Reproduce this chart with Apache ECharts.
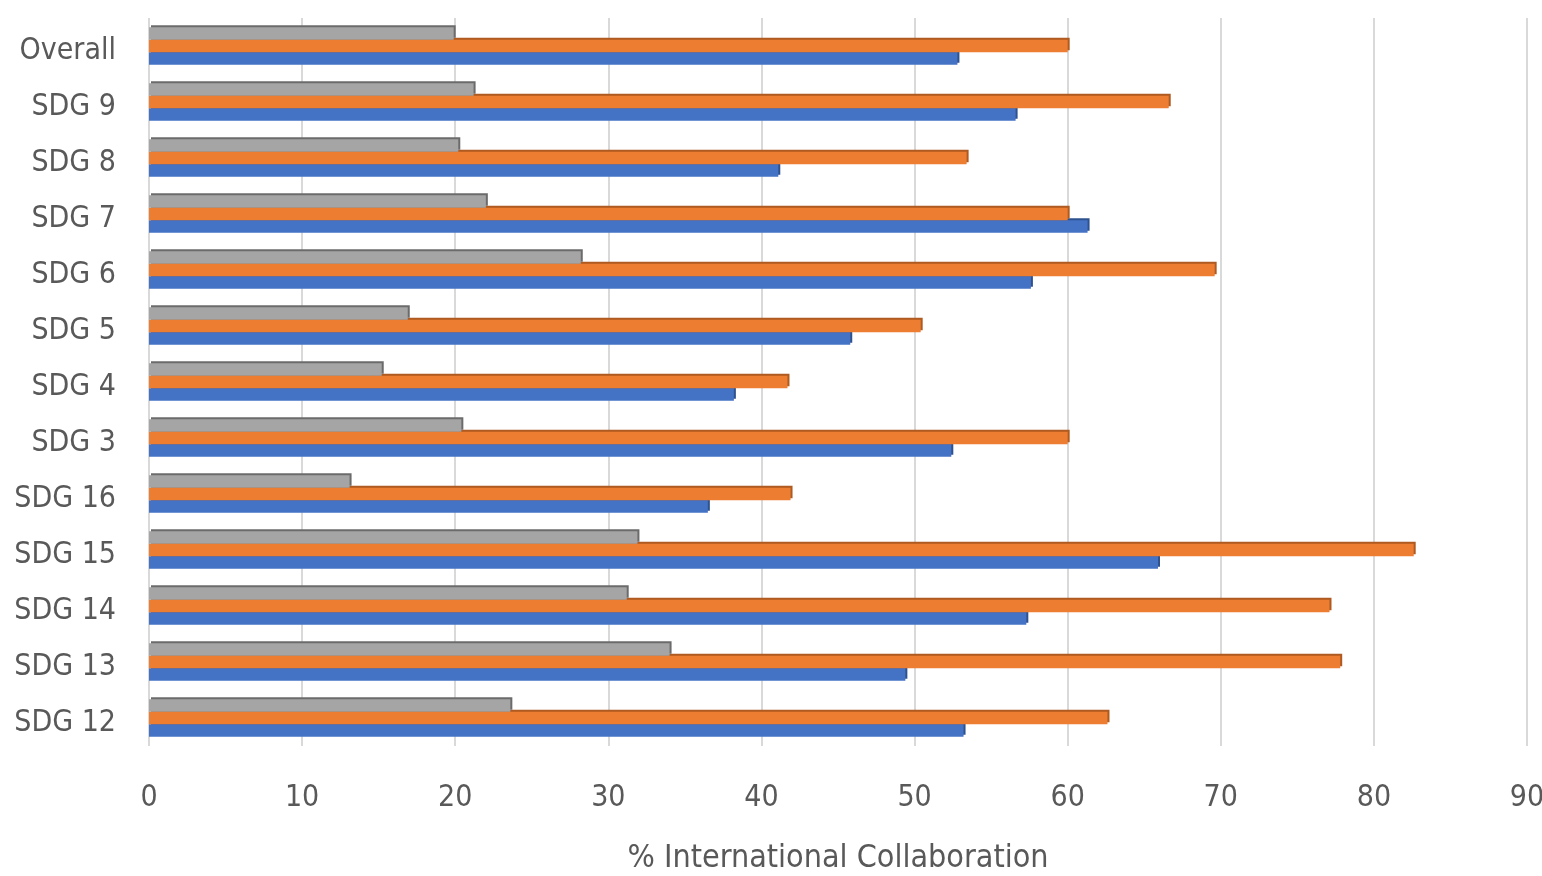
<!DOCTYPE html>
<html>
<head>
<meta charset="utf-8">
<script src="https://cdn.jsdelivr.net/npm/echarts@6/dist/echarts.min.js"></script>
<style>html,body{margin:0;padding:0;background:#fff;overflow:hidden}#c{width:1542px;height:876px}</style>
</head>
<body>
<div id="c"></div>
<script>
// categories listed bottom-to-top
const categories = ['SDG 12','SDG 13','SDG 14','SDG 15','SDG 16','SDG 3','SDG 4','SDG 5','SDG 6','SDG 7','SDG 8','SDG 9','Overall'];
const blueValues   = [53.2, 49.4, 57.3, 65.9, 36.5, 52.4, 38.2, 45.8, 57.6, 61.3, 41.1, 56.6, 52.8];
const orangeValues = [62.6, 77.8, 77.1, 82.6, 41.9, 60.0, 41.7, 50.4, 69.6, 60.0, 53.4, 66.6, 60.0];
const grayValues   = [23.6, 34.0, 31.2, 31.9, 13.1, 20.4, 15.2, 16.9, 28.2, 22.0, 20.2, 21.2, 19.9];
const xTicks = [0,10,20,30,40,50,60,70,80,90];

const FONT = '"DejaVu Sans Condensed", "Liberation Sans Narrow", "Open Sans", sans-serif';
const TXT = '#595959';

function mkSeries(name, data, color, edge, z){
  return {
    name, type:'bar', data, z,
    barGap:'0%', barCategoryGap:'33%',
    itemStyle:{color, shadowColor:edge, shadowOffsetX:2, shadowOffsetY:-2, shadowBlur:0},
    emphasis:{disabled:true}
  };
}

const chart = echarts.init(document.getElementById('c'));
chart.setOption({
  animation:false,
  backgroundColor:'#fff',
  grid:{left:149, right:15, top:18, bottom:130, containLabel:false, outerBoundsMode:'none'},
  xAxis:{
    type:'value', min:0, max:90, interval:10,
    axisLine:{show:false}, axisTick:{show:false},
    splitLine:{show:true, lineStyle:{color:'#d9d9d9', width:2}},
    axisLabel:{color:TXT, fontSize:30, fontFamily:FONT, margin:37,
      formatter:v => xTicks.includes(v) ? String(v) : ''},
    name:'% International Collaboration', nameLocation:'middle', nameGap:97,
    nameTextStyle:{color:TXT, fontSize:32, fontFamily:FONT}
  },
  yAxis:{
    type:'category', data:categories,
    axisLine:{show:false}, axisTick:{show:false},
    axisLabel:{margin:33, formatter: v => '{t|' + v + '}',
      rich:{t:{color:TXT, fontSize:30, fontFamily:FONT, padding:[10,0,0,0]}}}
  },
  series:[
    mkSeries('Gray', grayValues, '#A5A5A5', '#6b6b6b', 4),
    mkSeries('Orange', orangeValues, '#ED7D31', '#ae5a21', 3),
    mkSeries('Blue', blueValues, '#4472C4', '#2f528f', 2)
  ]
});
</script>
</body>
</html>
